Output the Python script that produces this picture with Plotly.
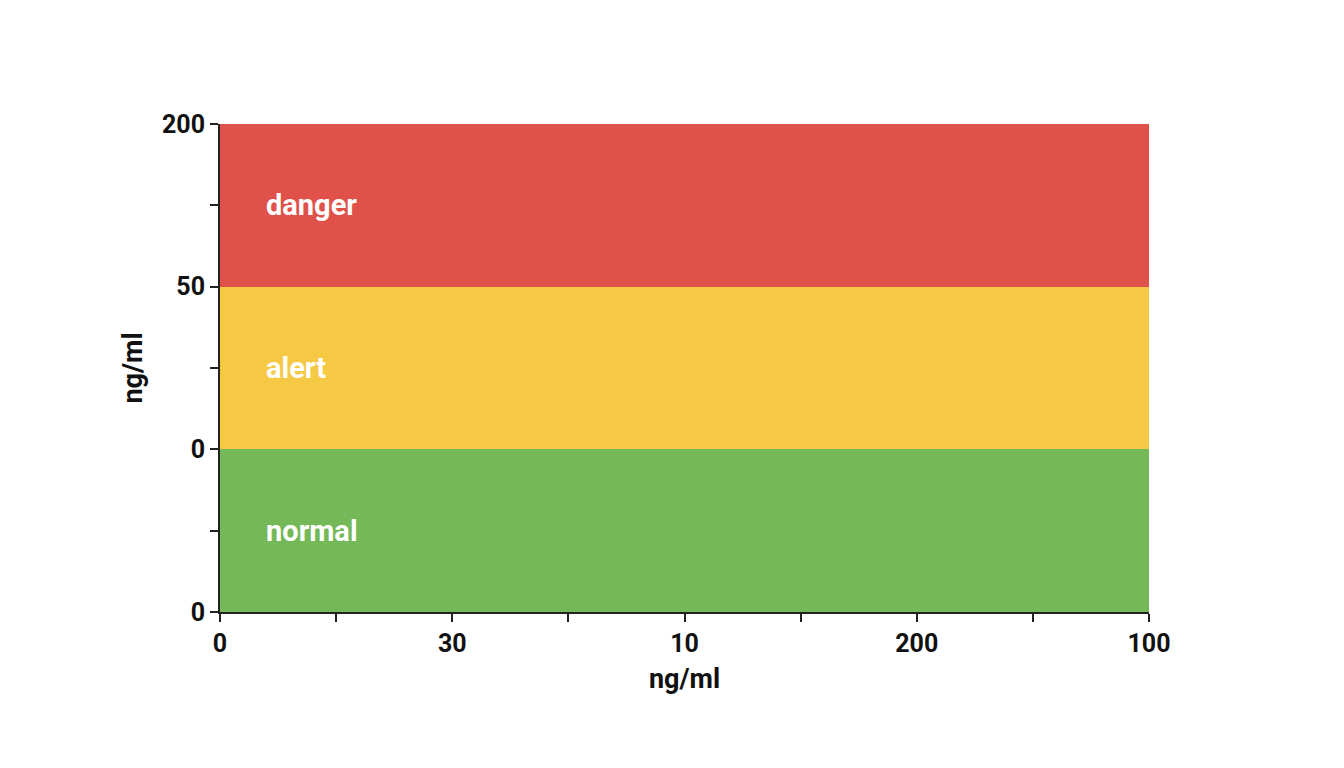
import plotly.graph_objects as go

zones = ["normal", "alert", "danger"]
zone_base = [0, 1, 2]
zone_height = [1, 1, 1]
zone_colors = ["#74b857", "#f6c944", "#e0514a"]
y_tick_vals = [0, 1, 2, 3]
y_tick_text = ["0", "0", "50", "200"]
x_tick_vals = [0, 1, 2, 3, 4]
x_tick_text = ["0", "30", "10", "200", "100"]

fig = go.Figure()
for name, b, h, c in zip(zones, zone_base, zone_height, zone_colors):
    fig.add_trace(go.Bar(x=[2], y=[h], base=[b], width=[4], marker=dict(color=c, line=dict(width=0)),
                         name=name, showlegend=False, hoverinfo="name"))
    fig.add_annotation(x=0.19, y=b + 0.5, text=name, showarrow=False, xanchor="left",
                       font=dict(family="Roboto", size=29, color="white", weight="bold"))

tick_font = dict(family="Roboto", size=25, color="#111", weight="bold")
title_font = dict(family="Roboto", size=27, color="#111", weight="bold")
axis_common = dict(showgrid=False, zeroline=False, showline=True, linecolor="#222", linewidth=2,
                   ticks="outside", ticklen=8, tickwidth=2, tickcolor="#222", tickfont=tick_font,
                   minor=dict(ticks="outside", ticklen=8, tickwidth=1.5, tickcolor="#222", dtick=0.5))
fig.update_xaxes(range=[0, 4], tickvals=x_tick_vals, ticktext=x_tick_text,
                 title=dict(text="ng/ml", font=title_font, standoff=12), **axis_common)
fig.update_yaxes(range=[0, 3], tickvals=y_tick_vals, ticktext=y_tick_text,
                 title=dict(text="ng/ml", font=title_font, standoff=12), **axis_common)
fig.update_layout(width=1344, height=768, margin=dict(l=212, r=203, t=116, b=164),
                  plot_bgcolor="white", paper_bgcolor="white", bargap=0, barmode="overlay")
fig.write_html("out.html")
